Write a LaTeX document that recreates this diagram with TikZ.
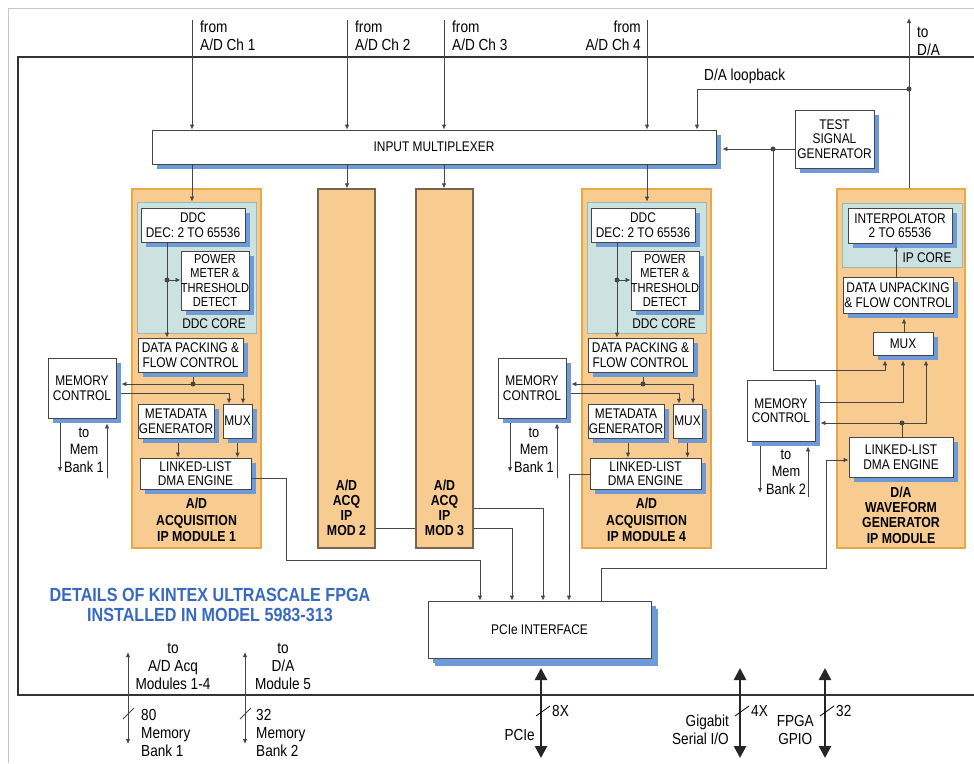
\documentclass[tikz,border=0pt]{standalone}
\usepackage{fontspec}
\setmainfont{Liberation Sans}[FakeStretch=0.85]
\usetikzlibrary{arrows.meta,shadows,calc}
\definecolor{shblue}{RGB}{110,155,215}
\definecolor{orfill}{RGB}{248,204,145}
\definecolor{ordraw}{RGB}{232,168,70}
\definecolor{tlfill}{RGB}{204,226,224}
\definecolor{tldraw}{RGB}{150,185,185}
\definecolor{ln}{RGB}{70,70,70}
\definecolor{ttl}{RGB}{55,105,195}
\definecolor{modbrown}{RGB}{120,100,80}
\tikzset{
 box/.style={draw=ln, fill=white, line width=0.8pt, inner sep=0pt, align=center,
   font=\fontsize{14}{14.5}\selectfont,
   general shadow={fill=shblue, shadow xshift=5pt, shadow yshift=-5pt}},
 ormod/.style={draw=ordraw, fill=orfill, line width=1.2pt, inner sep=0pt},
 brmod/.style={draw=modbrown, fill=orfill, line width=1.2pt, inner sep=0pt},
 tealbox/.style={draw=tldraw, fill=tlfill, line width=0.8pt, inner sep=0pt},
 conn/.style={draw=ln, line width=0.8pt},
 arr/.style={conn, -{Latex[length=5pt,width=4.5pt]}},
 jdot/.style={circle, fill=ln, inner sep=0pt, minimum size=5pt},
 lbl/.style={align=center, font=\fontsize{16}{18}\selectfont, inner sep=0pt},
 txt/.style={align=center, font=\fontsize{14}{14.5}\selectfont, inner sep=0pt},
 blbl/.style={align=center, font=\bfseries\fontsize{14.5}{16.5}\selectfont, inner sep=0pt},
 bigarr/.style={line width=2.5pt, draw=black!85, {Triangle[width=12pt,length=12pt]}-{Triangle[width=12pt,length=12pt]}},
 thinarr/.style={conn, {Latex[length=5pt,width=4.5pt]}-{Latex[length=5pt,width=4.5pt]}},
}
\begin{document}
\begin{tikzpicture}[x=1pt,y=-1pt]
\useasboundingbox (0,0) rectangle (974,763);
% frames
\draw[gray!45, line width=0.8pt] (974,8) -- (8,8) -- (8,763);
\draw[black!80, line width=1.3pt] (974,57) -- (18,57) -- (18,695) -- (974,695);

% orange modules
\node[ormod, minimum width=129pt, minimum height=359pt] (m1) at (196.5,368.5) {};
\node[ormod, minimum width=129pt, minimum height=359pt] (m4) at (646.5,368.5) {};
\node[brmod, minimum width=57pt, minimum height=359pt] (mod2) at (346.5,368.5) {};
\node[brmod, minimum width=57pt, minimum height=359pt] (mod3) at (444.5,368.5) {};
\node[ormod, minimum width=128pt, minimum height=359pt] (dam) at (901,368.5) {};
% teal cores
\node[tealbox, minimum width=119pt, minimum height=131pt] (core1) at (196.5,267.5) {};
\node[tealbox, minimum width=119pt, minimum height=131pt] (core4) at (646.5,267.5) {};
\node[tealbox, minimum width=120pt, minimum height=64pt] (ipcore) at (902,235) {};

% top boxes
\node[box, minimum width=564pt, minimum height=34pt] (mux) at (434,147) {INPUT MULTIPLEXER};
\node[box, minimum width=79pt, minimum height=58pt] (tsg) at (834.5,139) {TEST\\SIGNAL\\GENERATOR};

% module 1
\node[box, minimum width=104pt, minimum height=34pt] (ddc1) at (193,225) {DDC\\DEC: 2 TO 65536};
\node[box, minimum width=66pt, minimum height=59pt, font=\fontsize{13}{14.3}\selectfont] (pm1) at (215,280.5) {POWER\\METER \&\\THRESHOLD\\DETECT};
\node[txt] (core1t) at (214,324) {DDC CORE};
\node[box, minimum width=105pt, minimum height=34pt] (dp1) at (190.5,355) {DATA PACKING \&\\FLOW CONTROL};
\node[box, minimum width=29pt, minimum height=34pt] (mux1) at (237.5,421) {MUX};
\node[box, minimum width=76pt, minimum height=34pt] (md1) at (176,421) {METADATA\\GENERATOR};
\node[box, minimum width=111pt, minimum height=31pt] (dma1) at (195.5,473.5) {LINKED-LIST\\DMA ENGINE};
\node[box, minimum width=68pt, minimum height=60pt] (mc1) at (82,388) {MEMORY\\CONTROL};
\node[blbl] (m1t) at (196.5,520) {A/D\\ACQUISITION\\IP MODULE 1};
\node[lbl, font=\fontsize{15}{17.5}\selectfont] (b1t) at (84,450) {to\\Mem\\Bank 1};

% module 4
\node[box, minimum width=104pt, minimum height=34pt] (ddc4) at (643,225) {DDC\\DEC: 2 TO 65536};
\node[box, minimum width=66pt, minimum height=59pt, font=\fontsize{13}{14.3}\selectfont] (pm4) at (665,280.5) {POWER\\METER \&\\THRESHOLD\\DETECT};
\node[txt] (core4t) at (664,324) {DDC CORE};
\node[box, minimum width=105pt, minimum height=34pt] (dp4) at (640.5,355) {DATA PACKING \&\\FLOW CONTROL};
\node[box, minimum width=29pt, minimum height=34pt] (mux4) at (687.5,421) {MUX};
\node[box, minimum width=76pt, minimum height=34pt] (md4) at (626,421) {METADATA\\GENERATOR};
\node[box, minimum width=111pt, minimum height=31pt] (dma4) at (645.5,473.5) {LINKED-LIST\\DMA ENGINE};
\node[box, minimum width=68pt, minimum height=60pt] (mc4) at (532,388) {MEMORY\\CONTROL};
\node[blbl] (m4t) at (646.5,520) {A/D\\ACQUISITION\\IP MODULE 4};
\node[lbl, font=\fontsize{15}{17.5}\selectfont] (b4t) at (534,450) {to\\Mem\\Bank 1};

% mod 2 / 3
\node[blbl, font=\bfseries\fontsize{14.5}{15}\selectfont] (mod2t) at (346.5,507.5) {A/D\\ACQ\\IP\\MOD 2};
\node[blbl, font=\bfseries\fontsize{14.5}{15}\selectfont] (mod3t) at (444.5,507.5) {A/D\\ACQ\\IP\\MOD 3};

% D/A module
\node[box, minimum width=104pt, minimum height=35pt] (interp) at (900,225.5) {INTERPOLATOR\\2 TO 65536};
\node[txt] (ipt) at (927,258) {IP CORE};
\node[box, minimum width=110pt, minimum height=36pt] (dunp) at (898,295) {DATA UNPACKING\\\& FLOW CONTROL};
\node[box, minimum width=60pt, minimum height=23pt] (damux) at (903,343.5) {MUX};
\node[box, minimum width=104pt, minimum height=40pt] (dadma) at (901,457) {LINKED-LIST\\DMA ENGINE};
\node[box, minimum width=68pt, minimum height=61pt] (mc5) at (781,410.5) {MEMORY\\CONTROL};
\node[blbl, font=\bfseries\fontsize{14.5}{15.3}\selectfont] (damt) at (901,515) {D/A\\WAVEFORM\\GENERATOR\\IP MODULE};
\node[lbl, font=\fontsize{15}{17.5}\selectfont] (b5t) at (786,472) {to\\Mem\\Bank 2};

% PCIe
\node[box, minimum width=223pt, minimum height=57pt, general shadow={fill=shblue, shadow xshift=7pt, shadow yshift=-8pt}] (pcie) at (539.5,629.5) {PCIe INTERFACE};

% top labels
\node[lbl, align=left, anchor=west] (l1) at (200,36) {from\\A/D Ch 1};
\node[lbl, align=left, anchor=west] (l2) at (355,36) {from\\A/D Ch 2};
\node[lbl, align=left, anchor=west] (l3) at (452,36) {from\\A/D Ch 3};
\node[lbl, align=right, anchor=east] (l4) at (641,36) {from\\A/D Ch 4};
\node[lbl, align=left, anchor=west] (lda) at (917,41) {to\\D/A};
\node[lbl, anchor=west] (llb) at (704,76) {D/A loopback};

% title
\node[align=center, inner sep=0pt, text=ttl, font=\bfseries\fontsize{19}{20}\selectfont] (title) at (210,605) {DETAILS OF KINTEX ULTRASCALE FPGA\\INSTALLED IN MODEL 5983-313};

% ---- connectors: inputs
\coordinate (in1) at (192,20); \coordinate (in2) at (347,20);
\coordinate (in3) at (444,20); \coordinate (in4) at (647,20);
\draw[arr] (in1) -- (in1 |- mux.north);
\draw[arr] (in2) -- (in2 |- mux.north);
\draw[arr] (in3) -- (in3 |- mux.north);
\draw[arr] (in4) -- (in4 |- mux.north);
\draw[arr] (mux.south -| in1) -- (core1.north -| in1);
\draw[arr] (mux.south -| in2) -- (mod2.north -| in2);
\draw[arr] (mux.south -| in3) -- (mod3.north -| in3);
\draw[arr] (mux.south -| in4) -- (core4.north -| in4);
% to D/A and loopback
\coordinate (toda) at (909,18);
\coordinate (lb) at (909,89);
\coordinate (lbx) at (697,89);
\draw[arr] (dam.north -| toda) -- (toda);
\draw[arr] (lb) -- (lbx) -- (lbx |- mux.north);
\node[jdot] (dlb) at (lb) {};
% test signal generator
\coordinate (tj) at (773,149);
\coordinate (tj2) at (773,370);
\coordinate (tj3) at (885,370);
\draw[arr] (tsg.west |- tj) -- ($(mux.east |- tj)+(6,0)$);
\draw[arr] (tj) -- (tj2) -- (tj3) -- ($(tj3 |- damux.south)+(0,5)$);
\node[jdot] (dtj) at (tj) {};

% ---- module 1 internals
\coordinate (v1) at (167,280);
\draw[arr] (ddc1.south -| v1) -- (dp1.north -| v1);
\draw[arr] (v1) -- (pm1.west |- v1);
\node[jdot] (dv1) at (v1) {};
\coordinate (j1) at (193,384);
\coordinate (j1b) at (243,384);
\coordinate (j1c) at (229,393);
\draw[conn] ($(dp1.south -| j1)+(0,5)$) -- (j1);
\draw[arr] (j1) -- ($(mc1.east |- j1)+(5,0)$);
\draw[arr] (j1) -- (j1b) -- (j1b |- mux1.north);
\draw[arr] ($(mc1.east |- j1c)+(5,0)$) -- (j1c) -- (j1c |- mux1.north);
\node[jdot] (dj1) at (j1) {};
\coordinate (k1) at (178,0);
\draw[arr] ($(md1.south -| k1)+(0,5)$) -- (dma1.north -| k1);
\draw[arr] ($(mux1.south)+(0,5)$) -- (mux1.south |- dma1.north);
\coordinate (bd1) at (60,472); \coordinate (bu1) at (107,478);
\draw[arr] ($(mc1.south -| bd1)+(0,5)$) -- (bd1);
\draw[arr] (bu1) -- ($(bu1 |- mc1.south)+(0,5)$);

% ---- module 4 internals
\coordinate (v4) at (617,280);
\draw[arr] (ddc4.south -| v4) -- (dp4.north -| v4);
\draw[arr] (v4) -- (pm4.west |- v4);
\node[jdot] (dv4) at (v4) {};
\coordinate (j4) at (643,384);
\coordinate (j4b) at (693,384);
\coordinate (j4c) at (679,393);
\draw[conn] ($(dp4.south -| j4)+(0,5)$) -- (j4);
\draw[arr] (j4) -- ($(mc4.east |- j4)+(5,0)$);
\draw[arr] (j4) -- (j4b) -- (j4b |- mux4.north);
\draw[arr] ($(mc4.east |- j4c)+(5,0)$) -- (j4c) -- (j4c |- mux4.north);
\node[jdot] (dj4) at (j4) {};
\coordinate (k4) at (628,0);
\draw[arr] ($(md4.south -| k4)+(0,5)$) -- (dma4.north -| k4);
\draw[arr] ($(mux4.south)+(0,5)$) -- (mux4.south |- dma4.north);
\coordinate (bd4) at (510,472); \coordinate (bu4) at (557,478);
\draw[arr] ($(mc4.south -| bd4)+(0,5)$) -- (bd4);
\draw[arr] (bu4) -- ($(bu4 |- mc4.south)+(0,5)$);

% ---- to PCIe
\coordinate (p1a) at (286,478); \coordinate (p1b) at (286,560); \coordinate (p1c) at (480,560);
\draw[arr] (dma1.east |- p1a) -- (p1a) -- (p1b) -- (p1c) -- (p1c |- pcie.north);
\coordinate (m23) at (395,528);
\draw[conn] (mod2.east |- m23) -- (mod3.west |- m23);
\coordinate (m3a) at (543,508); \coordinate (m3b) at (512,528);
\draw[arr] (mod3.east |- m3a) -- (m3a) -- (m3a |- pcie.north);
\draw[arr] (mod3.east |- m3b) -- (m3b) -- (m3b |- pcie.north);
\coordinate (p4a) at (569,474);
\draw[arr] (dma4.west |- p4a) -- (p4a) -- (p4a |- pcie.north);
\coordinate (pd1) at (601,568); \coordinate (pd2) at (826,568); \coordinate (pd3) at (826,460);
\draw[arr] (pcie.north -| pd1) -- (pd1) -- (pd2) -- (pd3) -- (dadma.west |- pd3);

% ---- D/A internals
\coordinate (w1) at (896,0); \coordinate (w2) at (904,0);
\draw[arr] (dunp.north -| w1) -- ($(interp.south -| w1)+(0,3)$);
\draw[arr] (damux.north -| w2) -- ($(dunp.south -| w2)+(0,5)$);
\coordinate (q1) at (903,402);
\draw[arr] ($(mc5.east |- q1)+(5,0)$) -- (q1) -- ($(q1 |- damux.south)+(0,5)$);
\coordinate (q2) at (902,423); \coordinate (q3) at (926,423);
\draw[conn] (dadma.north -| q2) -- (q2);
\draw[arr] (q2) -- ($(mc5.east |- q2)+(5,0)$);
\draw[arr] (q2) -- (q3) -- ($(q3 |- damux.south)+(0,5)$);
\node[jdot] (dq2) at (q2) {};
\coordinate (bd5) at (760,493); \coordinate (bu5) at (808,497);
\draw[arr] ($(mc5.south -| bd5)+(0,5)$) -- (bd5);
\draw[arr] (bu5) -- ($(bu5 |- mc5.south)+(0,5)$);

% ---- bottom I/O
\coordinate (pa) at (541,668); \coordinate (pb) at (541,758);
\draw[bigarr] (pa) -- (pb);
\draw[line width=0.8pt] (536,716) -- (550,706);
\node[lbl, anchor=west] (p8x) at (552,711) {8X};
\node[lbl, anchor=east] (pcl) at (535,735) {PCIe};

\coordinate (ga) at (740,668); \coordinate (gb) at (740,758);
\draw[bigarr] (ga) -- (gb);
\draw[line width=0.8pt] (735,716) -- (749,706);
\node[lbl, anchor=west] (g4x) at (751,711) {4X};
\node[lbl, align=right, anchor=east] (gl) at (729,730) {Gigabit\\Serial I/O};

\coordinate (fa) at (825,668); \coordinate (fb) at (825,758);
\draw[bigarr] (fa) -- (fb);
\draw[line width=0.8pt] (820,716) -- (834,706);
\node[lbl, anchor=west] (f32) at (836,711) {32};
\node[lbl, align=center, anchor=east] (fl) at (814,730) {FPGA\\GPIO};

\coordinate (ma) at (128,652); \coordinate (mb) at (128,744);
\draw[thinarr] (ma) -- (mb);
\draw[conn] (123,719) -- (134,708);
\node[lbl] (mat) at (173,666) {to\\A/D Acq\\Modules 1-4};
\node[lbl, align=left, anchor=west] (mab) at (141,733) {80\\Memory\\Bank 1};

\coordinate (na) at (245,652); \coordinate (nb) at (245,744);
\draw[thinarr] (na) -- (nb);
\draw[conn] (240,719) -- (251,708);
\node[lbl] (nat) at (283,666) {to\\D/A\\Module 5};
\node[lbl, align=left, anchor=west] (nab) at (256,733) {32\\Memory\\Bank 2};
\end{tikzpicture}
\end{document}
